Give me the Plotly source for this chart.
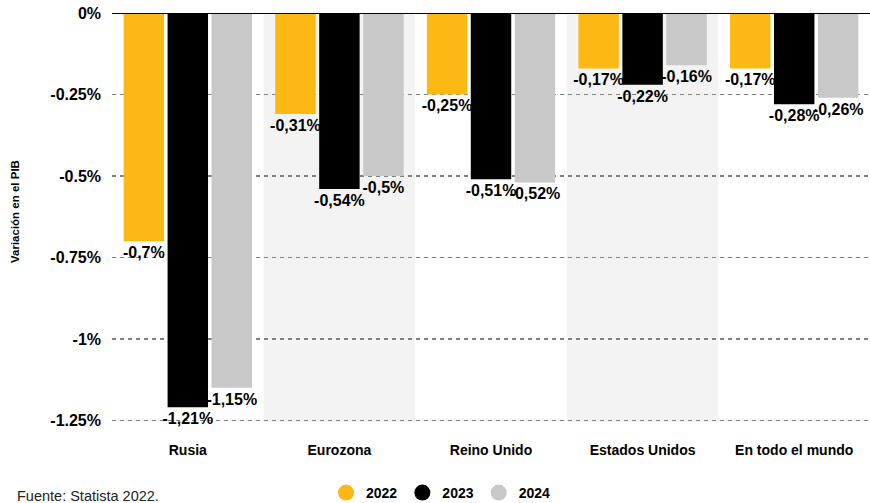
import plotly.graph_objects as go

categories = ["Rusia", "Eurozona", "Reino Unido", "Estados Unidos", "En todo el mundo"]
years = ["2022", "2023", "2024"]
v2022 = [-0.7, -0.31, -0.25, -0.17, -0.17]
v2023 = [-1.21, -0.54, -0.51, -0.22, -0.28]
v2024 = [-1.15, -0.5, -0.52, -0.16, -0.26]
tick_vals = [0, -0.25, -0.5, -0.75, -1, -1.25]
tick_text = ["0%", "-0.25%", "-0.5%", "-0.75%", "-1%", "-1.25%"]
colors = ["#FCB813", "#000000", "#C8C8C8"]

FONT = "Liberation Sans, Arial, sans-serif"

W, H = 870, 503
L, T, B, R = 112, 13, 81, 0
PW, PH = W - L - R, H - T - B

def lab(v):
    return f"{v:g}".replace(".", ",") + "%"

fig = go.Figure()
for name, vals, col in zip(years, [v2022, v2023, v2024], colors):
    fig.add_trace(go.Bar(
        x=categories, y=vals, name=name, marker_color=col, marker_line_width=0,
        text=[lab(v) for v in vals], textposition="outside", cliponaxis=False,
        constraintext="none",
        textfont=dict(family=FONT, size=16, color="#000", weight="bold"),
        showlegend=False, hoverinfo="skip",
    ))
    fig.add_trace(go.Scatter(
        x=[None], y=[None], mode="markers", name=name,
        marker=dict(symbol="circle", size=20, color=col), showlegend=True,
    ))

# alternating background bands
for i in (1, 3):
    fig.add_shape(type="rect", xref="x", yref="paper", x0=i - 0.5, x1=i + 0.5,
                  y0=0, y1=1, fillcolor="#F3F3F3", line_width=0, layer="below")
# zero line
fig.add_shape(type="line", xref="paper", yref="y", x0=0, x1=1, y0=0, y1=0,
              line=dict(color="#000", width=2), layer="above")

fig.update_layout(
    width=W, height=H,
    margin=dict(l=L, t=T, b=B, r=R, autoexpand=False),
    paper_bgcolor="white", plot_bgcolor="white",
    barmode="group", bargap=0.13, bargroupgap=0.08,
    hovermode=False,
    font=dict(family=FONT, color="#000"),
    showlegend=True,
    legend=dict(orientation="h", xref="container", yref="container",
                x=441 / W, xanchor="center", y=(H - 493) / H, yanchor="middle",
                font=dict(family=FONT, size=14, color="#000", weight="bold"),
                itemsizing="trace", tracegroupgap=0),
    annotations=[
        dict(text="Fuente: Statista 2022.", xref="paper", yref="paper",
             x=(15 - L) / PW, y=(T + PH - 496) / PH, xanchor="left", yanchor="middle",
             showarrow=False, font=dict(family=FONT, size=14.5, color="#222")),
        dict(text="<b>Variación en el PIB</b>", xref="paper", yref="paper",
             x=(15 - L) / PW, y=(T + PH - 212) / PH, xanchor="center", yanchor="middle",
             textangle=-90, showarrow=False, font=dict(family=FONT, size=11.5, color="#000")),
    ],
)
fig.update_xaxes(showgrid=False, showline=False, zeroline=False, automargin=False,
                 tickfont=dict(family=FONT, size=14, color="#000", weight="bold"),
                 ticks="", ticklabelstandoff=18)
fig.update_yaxes(range=[-1.255, 0], tickvals=tick_vals, ticktext=tick_text,
                 showgrid=True, gridcolor="#808080", griddash="4px,4px", gridwidth=1.5,
                 zeroline=False, showline=False, ticks="", automargin=False,
                 ticklabeloverflow="allow",
                 tickfont=dict(family=FONT, size=16, color="#000", weight="bold"),
                 ticklabelstandoff=10)

fig.write_html("out.html", config={"displayModeBar": False, "staticPlot": True},
               post_script="document.body.style.margin='0px';document.body.style.overflow='hidden';")
